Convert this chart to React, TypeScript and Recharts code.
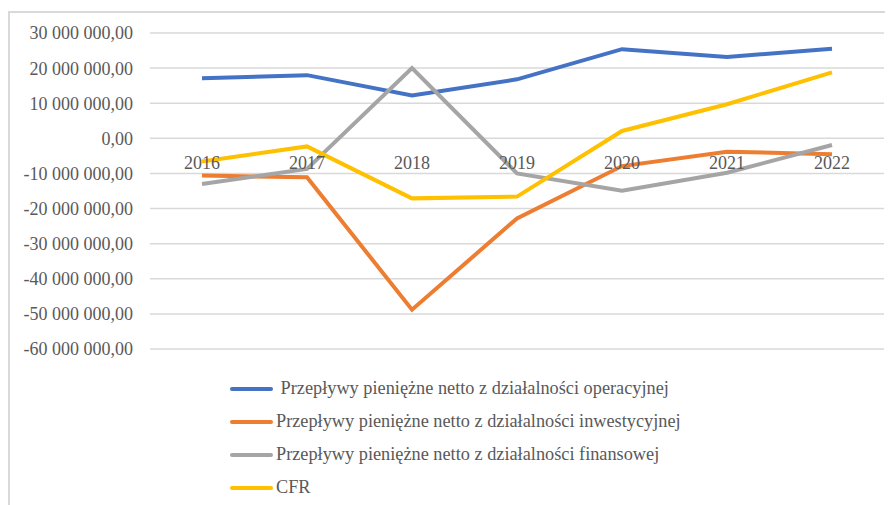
import { LineChart, Line, XAxis, YAxis, CartesianGrid } from "recharts";

const years = ["2016", "2017", "2018", "2019", "2020", "2021", "2022"];

const operacyjne = [17100000, 18000000, 12200000, 16800000, 25400000, 23200000, 25500000];
const inwestycyjne = [-10600000, -11100000, -48800000, -22800000, -7900000, -3800000, -4500000];
const finansowe = [-13000000, -8700000, 20000000, -10000000, -14900000, -9800000, -1900000];
const cfr = [-6600000, -2300000, -17100000, -16600000, 2100000, 9700000, 18800000];

const yTicks = [30000000, 20000000, 10000000, 0, -10000000, -20000000, -30000000, -40000000, -50000000, -60000000];

const seriesKeys = ["op", "inw", "fin", "cfr"];
const seriesNames = [
  " Przepływy pieniężne netto z działalności operacyjnej",
  "Przepływy pieniężne netto z działalności inwestycyjnej",
  "Przepływy pieniężne netto z działalności finansowej",
  "CFR",
];
const colors = ["#4472C4", "#ED7D31", "#A5A5A5", "#FFC000"];

const data = years.map((y, i) => ({
  year: y,
  op: operacyjne[i],
  inw: inwestycyjne[i],
  fin: finansowe[i],
  cfr: cfr[i],
}));

const FONT = "Liberation Serif, Times New Roman, serif";

function formatPl(v: number) {
  const neg = v < 0;
  const s = Math.abs(v)
    .toFixed(0)
    .replace(/\B(?=(\d{3})+(?!\d))/g, " ");
  return (neg ? "-" : "") + s + ",00";
}

// year labels sit just under the zero line, like in Excel
function YearTick(props: any) {
  const { x, y, payload } = props;
  return (
    <text x={x} y={y - 195} dy="0.71em" textAnchor="middle" fill="#595959" fontSize={18} fontFamily={FONT}>
      {payload.value}
    </text>
  );
}

export default function App() {
  return (
    <div
      style={{
        position: "relative",
        marginTop: 3,
        width: 882,
        height: 494,
        borderTop: "2px solid #d9d9d9",
        borderLeft: "2px solid #d9d9d9",
        background: "#fff",
      }}
    >
      <LineChart width={880} height={492} data={data} margin={{ top: 20, right: 6, left: 0, bottom: 126 }}>
        <CartesianGrid vertical={false} stroke="#d9d9d9" strokeWidth={1.5} />
        <XAxis
          dataKey="year"
          axisLine={false}
          tickLine={false}
          tickSize={0}
          height={30}
          padding={{ left: 52, right: 52 }}
          tick={<YearTick />}
          interval={0}
        />
        <YAxis
          domain={[-60000000, 30000000]}
          ticks={yTicks}
          width={140}
          axisLine={false}
          tickLine={false}
          tickSize={0}
          tickMargin={17}
          tickFormatter={formatPl}
          tick={{ fill: "#595959", fontSize: 18, fontFamily: FONT }}
          interval={0}
        />
        {seriesKeys.map((k, i) => (
          <Line
            key={k}
            dataKey={k}
            name={seriesNames[i]}
            stroke={colors[i]}
            strokeWidth={4}
            dot={false}
            isAnimationActive={false}
          />
        ))}
      </LineChart>
      <div style={{ position: "absolute", left: 220, top: 359, fontFamily: FONT, fontSize: 18.3, color: "#595959" }}>
        {seriesNames.map((n, i) => (
          <div key={n} style={{ display: "flex", alignItems: "center", height: 33 }}>
            <span style={{ display: "inline-block", width: 43, height: 4, borderRadius: 2, background: colors[i] }} />
            <span style={{ marginLeft: 3, whiteSpace: "pre" }}>{n}</span>
          </div>
        ))}
      </div>
    </div>
  );
}
